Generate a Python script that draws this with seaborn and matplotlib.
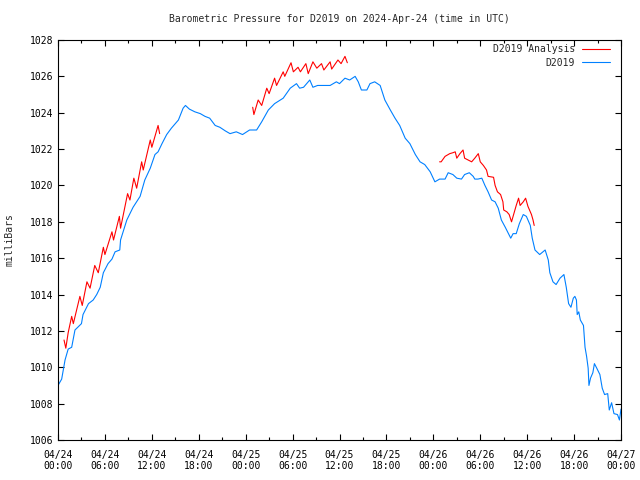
import numpy as np
import pandas as pd
import matplotlib
matplotlib.use("Agg")
import matplotlib.pyplot as plt
import matplotlib.dates as mdates
import seaborn as sns

# %% data (hours after 2024-04-24 00:00 UTC, millibars)

blue_hours = [0.0, 0.47, 0.9, 1.3, 1.75, 2.17, 3.0, 3.2, 3.9, 4.5, 4.95, 5.4, 5.8, 6.4,
              6.9, 7.3, 7.9, 8.0, 8.8, 9.6, 10.5, 11.1, 11.8, 12.4, 12.8, 13.3, 13.9,
              14.5, 15.4, 16.0, 16.3, 16.8, 17.5, 18.2, 18.8, 19.4, 20.1, 20.7, 21.4,
              22.0, 22.8, 23.6, 24.5, 25.4, 26.05, 26.9, 27.7, 28.8, 29.7, 30.5, 30.9,
              31.4, 32.2, 32.6, 33.2, 33.9, 34.8, 35.6, 36.0, 36.7, 37.3, 38.0, 38.4,
              38.8, 39.5, 39.9, 40.5, 41.2, 41.8, 42.5, 43.1, 43.7, 44.4, 45.0, 45.7,
              46.3, 46.9, 47.6, 48.2, 48.8, 49.5, 49.9, 50.5, 51.0, 51.6, 52.0, 52.6,
              53.1, 53.3, 53.7, 54.2, 54.6, 55.0, 55.45, 55.9, 56.3, 56.7, 57.2, 57.6,
              57.9, 58.2, 58.6, 59.0, 59.5, 59.9, 60.4, 60.65, 61.0, 61.6, 62.3, 62.7,
              62.9, 63.3, 63.7, 64.2, 64.7, 65.0, 65.3, 65.6, 65.9, 66.1, 66.3, 66.4,
              66.6, 66.8, 67.2, 67.4, 67.6, 67.8, 67.9, 68.1, 68.4, 68.6, 68.9, 69.3,
              69.6, 69.9, 70.3, 70.5, 70.8, 71.1, 71.55, 71.8, 72.0]
blue_mbar = [1009.0, 1009.35, 1010.4, 1011.0, 1011.1, 1012.05, 1012.4, 1012.9, 1013.5,
             1013.7, 1014.0, 1014.4, 1015.2, 1015.7, 1015.95, 1016.35, 1016.45, 1017.0,
             1018.1, 1018.8, 1019.4, 1020.3, 1020.95, 1021.7, 1021.85, 1022.3, 1022.8,
             1023.15, 1023.6, 1024.25, 1024.4, 1024.2, 1024.05, 1023.95, 1023.8, 1023.7,
             1023.3, 1023.2, 1023.0, 1022.85, 1022.95, 1022.8, 1023.05, 1023.05, 1023.5,
             1024.15, 1024.5, 1024.8, 1025.35, 1025.6, 1025.35, 1025.4, 1025.8, 1025.4,
             1025.5, 1025.5, 1025.5, 1025.7, 1025.6, 1025.9, 1025.8, 1026.0, 1025.7,
             1025.25, 1025.25, 1025.6, 1025.7, 1025.5, 1024.7, 1024.15, 1023.7, 1023.3,
             1022.6, 1022.3, 1021.7, 1021.3, 1021.15, 1020.75, 1020.2, 1020.35, 1020.35,
             1020.7, 1020.6, 1020.4, 1020.35, 1020.6, 1020.7, 1020.5, 1020.35, 1020.35,
             1020.4, 1020.0, 1019.65, 1019.2, 1019.1, 1018.75, 1018.1, 1017.7, 1017.35,
             1017.1, 1017.35, 1017.35, 1017.9, 1018.4, 1018.3, 1017.8, 1017.1, 1016.45,
             1016.2, 1016.45, 1015.9, 1015.2, 1014.7, 1014.55, 1014.9, 1015.1, 1014.4,
             1013.5, 1013.3, 1013.8, 1013.9, 1013.7, 1012.9, 1013.05, 1012.6, 1012.3,
             1011.1, 1010.6, 1009.95, 1009.0, 1009.4, 1009.7, 1010.2, 1009.95, 1009.6,
             1008.85, 1008.5, 1008.55, 1007.65, 1008.05, 1007.45, 1007.4, 1007.1, 1007.7]

red_hours = [0.77, 1.0, 1.3, 1.75, 1.96, 2.8, 3.1, 3.7, 4.1, 4.7, 5.15, 5.8, 6.0, 6.9,
             7.1, 7.85, 8.0, 8.9, 9.2, 9.7, 10.06, 10.7, 10.9, 11.8, 12.0, 12.8, 13.0,
             24.9, 25.05, 25.6, 26.05, 26.7, 27.0, 27.7, 27.95, 28.8, 29.0, 29.8, 30.1,
             30.7, 31.0, 31.7, 32.0, 32.6, 33.1, 33.7, 34.0, 34.8, 35.0, 35.8, 36.2,
             36.7, 37.0,
             48.8, 49.0, 49.5, 50.1, 50.5, 50.8, 51.0, 51.4, 51.8, 52.0, 52.45, 52.9,
             53.3, 53.75, 54.0, 54.4, 54.8, 55.0, 55.7, 55.9, 56.2, 56.6, 56.9, 57.0,
             57.4, 57.7, 58.0, 58.2, 58.6, 58.9, 59.1, 59.5, 59.8, 60.1, 60.55, 60.75,
             60.9]
red_mbar = [1011.5, 1011.05, 1011.9, 1012.8, 1012.4, 1013.9, 1013.4, 1014.7, 1014.35,
            1015.6, 1015.2, 1016.6, 1016.2, 1017.45, 1017.0, 1018.3, 1017.65, 1019.55,
            1019.2, 1020.4, 1019.85, 1021.3, 1020.85, 1022.5, 1022.1, 1023.3, 1022.85,
            1024.3, 1023.9, 1024.7, 1024.4, 1025.35, 1025.05, 1025.9, 1025.5, 1026.25,
            1026.0, 1026.75, 1026.25, 1026.5, 1026.25, 1026.7, 1026.15, 1026.8, 1026.45,
            1026.7, 1026.35, 1026.8, 1026.4, 1026.9, 1026.7, 1027.1, 1026.75,
            1021.3, 1021.3, 1021.6, 1021.75, 1021.8, 1021.85, 1021.5, 1021.75, 1021.95,
            1021.5, 1021.4, 1021.3, 1021.5, 1021.75, 1021.3, 1021.1, 1020.85, 1020.5,
            1020.45, 1020.0, 1019.65, 1019.5, 1019.1, 1018.65, 1018.55, 1018.4, 1018.0,
            1018.3, 1018.9, 1019.3, 1018.9, 1019.1, 1019.3, 1018.85, 1018.4, 1018.1,
            1017.8]
red_segment = [0] * 27 + [1] * 26 + [2] * 37

# %% frames

t0 = pd.Timestamp("2024-04-24 00:00")
blue = pd.DataFrame({"time": t0 + pd.to_timedelta(blue_hours, unit="h"),
                     "mbar": blue_mbar})
red = pd.DataFrame({"time": t0 + pd.to_timedelta(red_hours, unit="h"),
                    "mbar": red_mbar, "seg": red_segment})

# %% PLOT

sns.set_style("ticks")
plt.rcParams["font.family"] = ["DejaVu Sans Mono"]
plt.rcParams["font.size"] = 7

fig = plt.figure(figsize=(6.4, 4.8), dpi=100)
ax = fig.add_axes([58 / 640, 40 / 480, 563 / 640, 400 / 480])

sns.lineplot(data=red, x="time", y="mbar", units="seg", estimator=None,
             color="#ff0000", linewidth=0.8, ax=ax, label="D2019 Analysis")
sns.lineplot(data=blue, x="time", y="mbar", color="#0080ff", linewidth=0.8,
             ax=ax, label="D2019")

ax.set_xlim(t0, t0 + pd.Timedelta(hours=72))
ax.set_ylim(1006, 1028)
ax.set_yticks(np.arange(1006, 1029, 2))
ax.xaxis.set_major_locator(mdates.HourLocator(byhour=[0, 6, 12, 18]))
ax.xaxis.set_minor_locator(mdates.HourLocator(byhour=[3, 9, 15, 21]))
ax.xaxis.set_major_formatter(mdates.DateFormatter("%m/%d\n%H:%M"))

ax.tick_params(which="both", direction="in", top=True, right=True,
               color="black", labelsize=7, labelcolor="black")
ax.tick_params(which="major", length=4, width=0.8)
ax.tick_params(which="minor", length=2.5, width=0.8)
ax.tick_params(axis="x", pad=7)
ax.tick_params(axis="y", pad=3.5)
for s in ax.spines.values():
    s.set_visible(True)
    s.set_color("black")
    s.set_linewidth(0.8)

ax.set_xlabel("")
ax.set_ylabel("milliBars", fontsize=7)
ax.yaxis.set_label_coords(-43 / 563, 0.5)

ax.text(0.5, 1 + 21 / 400, "Barometric Pressure for D2019 on 2024-Apr-24 (time in UTC)",
        transform=ax.transAxes, ha="center", va="center", fontsize=7)

# one legend entry per series (the red one has several segments)
handles, labels = ax.get_legend_handles_labels()
seen = {}
for h, l in zip(handles, labels):
    seen.setdefault(l, h)
ax.legend(list(seen.values()), list(seen.keys()), loc="upper right",
          bbox_to_anchor=(552 / 563, 1 - 4 / 400), frameon=False,
          markerfirst=False, fontsize=7, handlelength=2.9, handletextpad=0.7,
          labelspacing=0.4, borderpad=0, borderaxespad=0)

plt.savefig("out.png", dpi=100)
plt.close()
